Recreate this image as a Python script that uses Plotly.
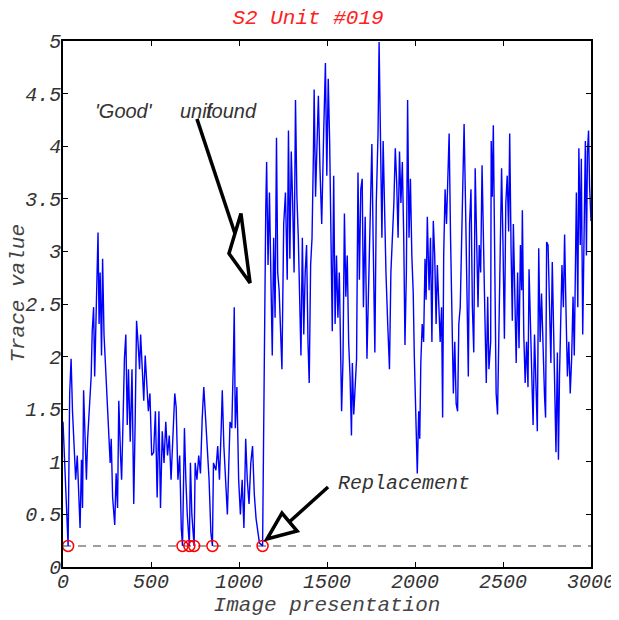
import plotly.graph_objects as go

# Trace (image index, trace value)
image_idx = [0, 29, 38, 46, 54, 62, 72, 81, 91, 97, 105, 111, 117, 125, 133, 140, 150, 160, 166, 174,
             180, 190, 195, 199, 205, 211, 219, 225, 233, 239, 249, 258, 268, 274, 282, 294, 302, 310, 317, 327,
             333, 341, 349, 357, 365, 372, 382, 392, 402, 410, 418, 426, 435, 441, 451, 459, 467, 475, 485, 494,
             504, 515, 525, 535, 545, 554, 564, 574, 584, 594, 604, 614, 623, 635, 643, 653, 663, 672, 679, 690,
             698, 706, 718, 724, 732, 745, 751, 761, 771, 781, 791, 800, 810, 820, 830, 840, 849, 855, 869, 879,
             889, 899, 905, 914, 922, 934, 949, 959, 969, 973, 979, 988, 998, 1008, 1018, 1028, 1038, 1047, 1057, 1067,
             1077, 1087, 1097, 1106, 1116, 1134, 1140, 1146, 1152, 1157, 1165, 1173, 1181, 1189, 1197, 1205, 1213, 1220, 1228, 1236,
             1244, 1254, 1264, 1274, 1281, 1289, 1297, 1305, 1313, 1321, 1329, 1337, 1344, 1352, 1360, 1368, 1376, 1384, 1392, 1399,
             1407, 1415, 1423, 1427, 1435, 1443, 1451, 1460, 1470, 1481, 1491, 1499, 1507, 1515, 1522, 1530, 1538, 1546, 1554, 1562,
             1570, 1578, 1583, 1591, 1599, 1607, 1615, 1623, 1631, 1639, 1644, 1652, 1660, 1668, 1676, 1684, 1692, 1700, 1707, 1717,
             1727, 1737, 1747, 1755, 1762, 1772, 1780, 1790, 1796, 1804, 1812, 1819, 1827, 1835, 1845, 1855, 1863, 1871, 1880, 1888,
             1896, 1904, 1912, 1920, 1928, 1936, 1943, 1951, 1958, 1966, 1974, 1982, 1990, 1996, 2002, 2007, 2013, 2021, 2027, 2033,
             2041, 2049, 2057, 2063, 2070, 2080, 2088, 2096, 2104, 2112, 2120, 2127, 2135, 2143, 2151, 2157, 2163, 2171, 2179, 2186,
             2194, 2202, 2210, 2218, 2226, 2234, 2242, 2249, 2257, 2265, 2273, 2279, 2287, 2295, 2303, 2310, 2318, 2326, 2334, 2342,
             2350, 2358, 2365, 2373, 2381, 2389, 2397, 2405, 2413, 2420, 2430, 2433, 2439, 2445, 2453, 2461, 2469, 2477, 2485, 2492,
             2500, 2508, 2516, 2524, 2532, 2538, 2546, 2553, 2559, 2567, 2575, 2583, 2591, 2599, 2606, 2610, 2618, 2626, 2634, 2642,
             2648, 2656, 2664, 2671, 2679, 2687, 2695, 2703, 2711, 2719, 2726, 2736, 2742, 2748, 2756, 2764, 2772, 2780, 2787, 2795,
             2801, 2809, 2815, 2821, 2827, 2835, 2843, 2850, 2858, 2866, 2874, 2882, 2890, 2898, 2905, 2911, 2917, 2925, 2931, 2939,
             2945, 2953, 2961, 2968, 2974, 2980, 2986, 2992, 3000]
trace_val = [1.38, 0.2, 1.65, 1.98, 1.48, 1.15, 0.83, 1.06, 0.60, 0.37, 1.02, 0.56, 1.68, 1.15, 0.83, 1.22, 1.48, 1.81, 2.24, 2.47,
             1.81, 2.60, 2.73, 3.18, 2.31, 2.80, 2.01, 2.93, 2.21, 2.01, 1.65, 1.32, 0.99, 1.22, 0.66, 0.40, 0.89, 0.56, 1.58, 1.06,
             0.83, 1.38, 1.98, 2.21, 1.35, 1.88, 1.19, 1.88, 0.60, 1.38, 2.34, 2.14, 1.88, 2.21, 1.81, 1.58, 2.01, 1.81, 1.48, 1.65,
             1.06, 1.09, 1.48, 0.66, 1.48, 0.56, 1.29, 0.99, 1.38, 1.06, 1.25, 0.83, 1.15, 1.65, 1.52, 0.83, 1.06, 0.37, 0.2, 1.32,
             0.83, 0.50, 0.2, 0.99, 0.50, 0.2, 0.99, 0.83, 1.06, 0.89, 1.42, 1.71, 1.42, 1.15, 0.83, 0.33, 0.2, 0.99, 0.92, 1.15,
             0.83, 1.32, 1.68, 1.15, 0.83, 0.50, 1.38, 1.32, 2.04, 2.47, 1.32, 1.71, 0.83, 0.50, 0.83, 0.37, 1.22, 0.83, 0.60, 0.99,
             1.15, 0.69, 0.46, 0.33, 0.23, 0.2, 1.48, 2.31, 3.39, 3.85, 2.87, 3.56, 2.54, 2.01, 3.13, 2.37, 4.08, 2.80, 2.63, 2.31,
             1.88, 3.26, 3.56, 2.73, 4.15, 2.93, 3.95, 3.46, 2.80, 4.44, 3.52, 3.13, 2.47, 2.01, 3.13, 2.21, 2.80, 3.06, 2.14, 1.75,
             2.87, 3.13, 3.95, 4.54, 3.52, 4.12, 4.48, 3.79, 3.26, 4.12, 4.79, 3.72, 4.64, 4.05, 3.13, 2.24, 3.72, 2.31, 2.96, 2.37,
             2.80, 1.98, 1.48, 1.98, 3.36, 2.57, 2.96, 2.14, 1.81, 1.25, 1.94, 1.45, 1.81, 1.98, 3.75, 2.73, 3.59, 3.69, 2.47, 3.33,
             1.98, 2.80, 3.46, 4.02, 3.13, 2.04, 3.46, 4.12, 4.99, 3.79, 3.13, 4.05, 3.29, 2.80, 2.31, 1.88, 2.80, 3.13, 3.46, 3.98,
             3.65, 3.13, 3.95, 3.46, 3.85, 3.13, 2.11, 2.80, 4.44, 3.13, 3.69, 2.96, 2.60, 2.01, 1.58, 1.06, 0.89, 1.48, 1.22, 1.94,
             2.31, 2.14, 2.93, 2.54, 3.33, 2.63, 3.13, 2.14, 3.29, 2.96, 2.31, 2.87, 2.54, 2.14, 2.47, 1.42, 2.96, 3.59, 3.26, 3.72,
             4.12, 3.13, 2.31, 1.65, 2.14, 1.55, 1.48, 2.31, 2.47, 3.13, 4.02, 4.21, 3.46, 2.80, 1.81, 3.26, 3.59, 2.47, 2.04, 3.79,
             3.13, 2.47, 3.06, 2.80, 3.82, 2.96, 2.40, 1.75, 2.57, 1.88, 2.14, 4.05, 3.52, 4.20, 2.96, 1.65, 1.45, 2.21, 3.23, 3.79,
             3.06, 2.17, 3.46, 3.72, 3.19, 4.12, 3.00, 2.34, 3.26, 2.54, 1.94, 2.80, 2.08, 3.06, 2.63, 3.39, 2.21, 1.75, 2.14, 1.71,
             2.83, 2.31, 1.81, 1.35, 2.21, 1.81, 1.29, 3.03, 2.14, 2.60, 2.14, 1.62, 1.42, 3.09, 3.06, 2.31, 1.94, 2.90, 2.21, 1.81,
             1.09, 2.04, 1.02, 1.81, 2.40, 2.87, 2.47, 3.16, 2.43, 1.81, 2.14, 1.65, 1.98, 2.57, 2.01, 3.13, 3.56, 2.47, 3.98, 3.06,
             3.88, 2.21, 3.46, 4.05, 2.96, 3.95, 4.15, 3.62, 3.29]

# Replaced (bad) presentations
replaced_idx = [29, 679, 718, 745, 849, 1134]
replaced_val = [0.2, 0.2, 0.2, 0.2, 0.2, 0.2]
threshold = 0.2

x_ticks = [0, 500, 1000, 1500, 2000, 2500, 3000]
y_ticks = [0, 0.5, 1, 1.5, 2, 2.5, 3, 3.5, 4, 4.5, 5]

mono = "Liberation Mono, Courier New, monospace"
sans = "Liberation Sans, Arial, sans-serif"

fig = go.Figure()

fig.add_trace(go.Scatter(
    x=[0, 3000], y=[threshold, threshold], mode='lines',
    line=dict(color='#808080', width=1.5, dash='8px,7px'),
    hoverinfo='skip'
))

fig.add_trace(go.Scatter(
    x=image_idx, y=trace_val, mode='lines',
    line=dict(color='#0000FF', width=1.4)
))

fig.add_trace(go.Scatter(
    x=replaced_idx, y=replaced_val, mode='markers',
    marker=dict(symbol='circle-open', size=11, color='#FF0000', line=dict(width=1.5))
))

# hand-drawn style arrows
arrow_shapes = [
    dict(type='line', x0=761, y0=4.26, x1=977, y1=3.17),
    dict(type='path', path='M 1011,3.36 L 1063,2.70 L 943,2.98 Z'),
    dict(type='line', x0=1506, y0=0.76, x1=1287, y1=0.43),
    dict(type='path', path='M 1244,0.513 L 1159,0.266 L 1330,0.342 Z'),
]
for s in arrow_shapes:
    s.update(xref='x', yref='y', line=dict(color='black', width=3.5))
    fig.add_shape(**s)

# overlapping label text, as drawn in the original
for txt, xpos in [("'Good'", 170), ("unit", 653), ("found", 800)]:
    fig.add_annotation(x=xpos, y=4.33, xref='x', yref='y', text=txt, showarrow=False,
                       xanchor='left', yanchor='middle',
                       font=dict(family=sans, size=20, color='#333333', style='italic'))
fig.add_annotation(x=1551, y=0.79, xref='x', yref='y', text='Replacement', showarrow=False,
                   xanchor='left', yanchor='middle',
                   font=dict(family=mono, size=20, color='#333333', style='italic'))

# y axis title placed by hand so it clears the tick labels
fig.add_annotation(x=-0.085, y=0.52, xref='paper', yref='paper', text='Trace value', showarrow=False,
                   textangle=-90, xanchor='center', yanchor='middle',
                   font=dict(family=mono, size=21, color='#444444', style='italic'))

fig.update_layout(
    width=611, height=612,
    margin=dict(l=55, r=28, t=33, b=53),
    paper_bgcolor='white', plot_bgcolor='white',
    showlegend=False,
    title=dict(text='S2 Unit #019', x=300 / 611, xanchor='center', y=1 - 9 / 612, yanchor='middle',
               font=dict(family=mono, size=21, color='#FF2020', style='italic')),
    font=dict(family=mono, size=20, color='#333333', style='italic'),
)

fig.update_xaxes(
    range=[0, 3000], tickvals=x_ticks, ticktext=[str(v) for v in x_ticks],
    showgrid=False, zeroline=False, showline=True, linecolor='black', linewidth=1.5, mirror='ticks',
    ticks='inside', ticklen=5, tickcolor='black', ticklabelstandoff=-5,
    tickfont=dict(family=mono, size=20, color='#333333', style='italic'),
    title=dict(text='Image presentation', standoff=4,
               font=dict(family=mono, size=21, color='#444444', style='italic')),
    automargin=False
)
fig.update_yaxes(
    range=[0, 5], tickvals=y_ticks, ticktext=['0', '0.5', '1', '1.5', '2', '2.5', '3', '3.5', '4', '4.5', '5'],
    showgrid=False, zeroline=False, showline=True, linecolor='black', linewidth=1.5, mirror='ticks',
    ticks='inside', ticklen=5, tickcolor='black', ticklabelstandoff=-4,
    tickfont=dict(family=mono, size=20, color='#333333', style='italic'),
    automargin=False
)

fig.write_html("out.html")
